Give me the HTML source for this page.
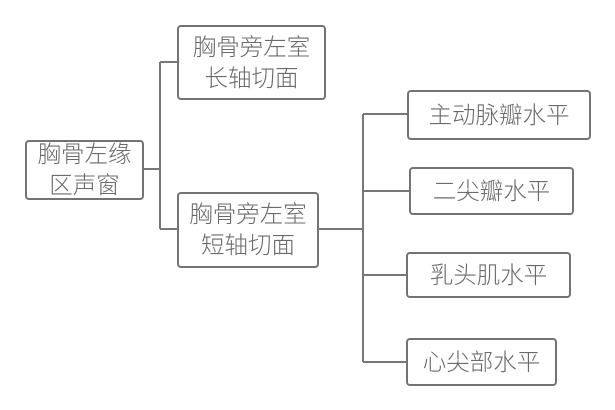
<!DOCTYPE html>
<html><head><meta charset="utf-8"><style>
body{margin:0;width:615px;height:410px;background:#fff;position:relative;overflow:hidden;font-family:"Liberation Sans","Noto Sans CJK SC",sans-serif;}
.b{position:absolute;box-sizing:border-box;border:2px solid #737373;border-radius:4px;display:flex;align-items:center;justify-content:center;text-align:center;color:#6a6a6a;font-size:23.5px;line-height:31px;font-weight:300;background:#fff;white-space:nowrap}
svg{position:absolute;left:0;top:0}
</style></head><body>
<svg width="615" height="410"><g stroke="#777" stroke-width="2" fill="none">
<path d="M144 169H160M160 62V229M160 62H177M160 229H177"/>
<path d="M318 229H363M363 114V362M363 114H407M363 191H409M363 275H406M363 362H406"/>
</g></svg>
<div class="b" style="left:25px;top:140px;width:119px;height:60px">胸骨左缘<br>区声窗</div>
<div class="b" style="left:177px;top:25px;width:149px;height:75px">胸骨旁左室<br>长轴切面</div>
<div class="b" style="left:177px;top:192px;width:142px;height:76px">胸骨旁左室<br>短轴切面</div>
<div class="b" style="left:407px;top:90px;width:184px;height:50px">主动脉瓣水平</div>
<div class="b" style="left:409px;top:167px;width:165px;height:48px">二尖瓣水平</div>
<div class="b" style="left:406px;top:252px;width:165px;height:46px">乳头肌水平</div>
<div class="b" style="left:406px;top:338px;width:151px;height:48px">心尖部水平</div>
</body></html>
